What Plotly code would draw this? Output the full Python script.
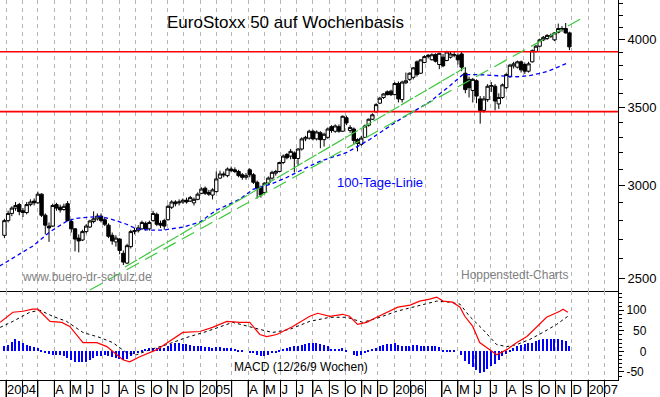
import math
import plotly.graph_objects as go
import pandas as pd

# ---------------- data ----------------
week_start = "2003-12-29"
n_weeks = 153
week_dates = pd.date_range(week_start, periods=n_weeks, freq="7D")

open_ = [2720, 2800, 2840, 2870, 2890, 2855, 2845, 2890, 2910, 2900,
         2950, 2830, 2770, 2770, 2890, 2875, 2862, 2895, 2795, 2755,
         2705, 2695, 2740, 2765, 2795, 2810, 2825, 2805, 2775, 2720,
         2685, 2700, 2625, 2575, 2660, 2740, 2745, 2755, 2785, 2755,
         2800, 2835, 2785, 2800, 2805, 2875, 2905, 2900, 2905, 2915,
         2910, 2900, 2920, 2955, 2985, 2960, 2945, 2965, 3045, 3070,
         3060, 3100, 3095, 3085, 3065, 3050, 3095, 3065, 3020, 2990,
         2960, 3015, 3045, 3075, 3085, 3140, 3190, 3180, 3200, 3165,
         3225, 3290, 3295, 3340, 3290, 3330, 3285, 3300, 3370, 3340,
         3370, 3340, 3430, 3345, 3355, 3285, 3255, 3300, 3380, 3420,
         3470, 3530, 3570, 3610, 3615, 3590, 3670, 3555, 3675, 3700,
         3715, 3830, 3745, 3825, 3870, 3846, 3885, 3810, 3865, 3840,
         3865, 3880, 3880, 3890, 3745, 3700, 3620, 3690, 3560, 3480,
         3555, 3650, 3650, 3525, 3570, 3640, 3720, 3800, 3790, 3830,
         3810, 3760, 3830, 3910, 3950, 4000, 4010, 4035, 4000, 4060,
         4085, 4090, 4055]
high = [2810, 2855, 2880, 2905, 2900, 2870, 2905, 2920, 2925, 2965,
        2955, 2840, 2790, 2895, 2900, 2890, 2895, 2910, 2810, 2760,
        2725, 2750, 2780, 2805, 2852, 2840, 2840, 2815, 2785, 2735,
        2720, 2705, 2640, 2675, 2750, 2760, 2775, 2800, 2795, 2800,
        2855, 2845, 2800, 2810, 2890, 2915, 2915, 2920, 2925, 2930,
        2940, 2930, 2960, 2990, 2995, 2975, 2985, 3085, 3090, 3085,
        3110, 3115, 3110, 3095, 3075, 3075, 3105, 3075, 3030, 3000,
        3020, 3055, 3090, 3095, 3145, 3190, 3200, 3225, 3210, 3230,
        3300, 3310, 3350, 3350, 3345, 3340, 3330, 3365, 3380, 3385,
        3385, 3445, 3445, 3380, 3365, 3295, 3310, 3385, 3425, 3460,
        3530, 3575, 3600, 3620, 3625, 3680, 3685, 3690, 3750, 3750,
        3790, 3840, 3850, 3880, 3890, 3895, 3895, 3900, 3890, 3915,
        3910, 3905, 3895, 3905, 3790, 3720, 3710, 3700, 3580, 3580,
        3665, 3680, 3665, 3600, 3670, 3745, 3815, 3830, 3840, 3840,
        3825, 3830, 3925, 3960, 4010, 4030, 4045, 4050, 4060, 4130,
        4110, 4135, 4065]
low = [2705, 2790, 2825, 2855, 2830, 2820, 2835, 2880, 2885, 2895,
       2820, 2725, 2685, 2765, 2855, 2845, 2855, 2795, 2735, 2635,
       2630, 2690, 2730, 2760, 2785, 2800, 2790, 2770, 2705, 2670,
       2660, 2620, 2565, 2570, 2650, 2725, 2735, 2750, 2745, 2745,
       2795, 2770, 2760, 2750, 2800, 2865, 2880, 2885, 2895, 2895,
       2905, 2885, 2915, 2950, 2945, 2940, 2920, 2960, 3040, 3050,
       3050, 3080, 3075, 3050, 3035, 3035, 3050, 3010, 2925, 2930,
       2950, 3005, 3035, 3060, 3080, 3130, 3160, 3160, 3080, 3120,
       3215, 3275, 3285, 3280, 3280, 3230, 3240, 3290, 3330, 3330,
       3330, 3335, 3380, 3330, 3255, 3210, 3245, 3295, 3370, 3415,
       3465, 3525, 3560, 3585, 3580, 3585, 3535, 3535, 3665, 3690,
       3700, 3720, 3740, 3820, 3855, 3840, 3825, 3775, 3790, 3835,
       3855, 3865, 3810, 3760, 3600, 3570, 3535, 3530, 3390, 3465,
       3540, 3610, 3480, 3490, 3560, 3630, 3710, 3780, 3780, 3750,
       3740, 3750, 3825, 3900, 3940, 3990, 4000, 4015, 3990, 4050,
       4065, 4050, 3920]
close = [2800, 2840, 2870, 2885, 2850, 2845, 2890, 2905, 2900, 2950,
         2830, 2775, 2760, 2885, 2870, 2860, 2880, 2800, 2755, 2700,
         2690, 2740, 2770, 2798, 2810, 2825, 2800, 2780, 2715, 2690,
         2705, 2640, 2580, 2665, 2740, 2745, 2760, 2790, 2755, 2790,
         2840, 2780, 2775, 2770, 2880, 2905, 2895, 2905, 2915, 2905,
         2930, 2920, 2950, 2980, 2955, 2950, 2975, 3040, 3070, 3065,
         3100, 3090, 3085, 3060, 3050, 3060, 3065, 3020, 2985, 2945,
         3015, 3045, 3080, 3085, 3140, 3180, 3170, 3210, 3165, 3225,
         3290, 3300, 3340, 3290, 3335, 3285, 3320, 3355, 3345, 3375,
         3340, 3440, 3395, 3365, 3280, 3260, 3295, 3375, 3420, 3450,
         3520, 3565, 3595, 3590, 3590, 3670, 3560, 3680, 3690, 3745,
         3785, 3735, 3845, 3870, 3880, 3884, 3835, 3895, 3800, 3905,
         3890, 3885, 3845, 3790, 3626, 3640, 3700, 3580, 3480, 3560,
         3650, 3655, 3545, 3570, 3660, 3735, 3805, 3815, 3830, 3770,
         3760, 3815, 3915, 3950, 4000, 4020, 4035, 4030, 4055, 4090,
         4090, 4055, 3945]

# 100-day moving average ("100-Tage-Linie")
ma_dates = ["2003-12-20", "2004-02-20", "2004-03-23", "2004-04-24", "2004-05-13",
            "2004-06-06", "2004-06-26", "2004-07-24", "2004-08-15", "2004-09-03",
            "2004-09-28", "2004-10-22", "2004-11-29", "2004-12-31", "2005-02-01",
            "2005-03-16", "2005-04-10", "2005-05-12", "2005-06-13", "2005-07-13",
            "2005-08-14", "2005-10-04", "2005-11-16", "2006-01-12", "2006-03-09",
            "2006-04-16", "2006-05-10", "2006-06-11", "2006-07-13", "2006-08-20",
            "2006-09-13", "2006-10-15", "2006-11-03", "2006-11-24"]
ma_values = [2560, 2662, 2737, 2796, 2813, 2818, 2824, 2802, 2780, 2754,
             2748, 2748, 2764, 2792, 2860, 2920, 2978, 3007, 3049, 3098,
             3147, 3203, 3286, 3419, 3539, 3654, 3734, 3734, 3727, 3719,
             3727, 3756, 3786, 3823]

# horizontal resistance / support lines
level_values = [3907, 3472]

# trend channel (green)
trend_upper_dates = ["2004-08-12", "2006-05-14"]
trend_upper_values = [2555, 3786]
trend_lower_dates = ["2004-06-07", "2006-12-22"]
trend_lower_values = [2442, 4177]

# MACD (12/26/9)
macd_dates = ["2003-12-21", "2004-01-14", "2004-02-02", "2004-02-20", "2004-03-01",
              "2004-03-24", "2004-04-15", "2004-04-30", "2004-05-25", "2004-06-20",
              "2004-07-09", "2004-08-08", "2004-08-21", "2004-09-09", "2004-10-11",
              "2004-11-04", "2004-11-29", "2004-12-31", "2005-01-24", "2005-02-20",
              "2005-03-16", "2005-04-04", "2005-04-23", "2005-05-06", "2005-05-25",
              "2005-06-24", "2005-07-26", "2005-08-10", "2005-09-02", "2005-09-26",
              "2005-10-09", "2005-10-24", "2005-11-10", "2005-11-29", "2005-12-24",
              "2006-01-08", "2006-01-31", "2006-02-18", "2006-03-09", "2006-03-22",
              "2006-04-03", "2006-04-21", "2006-05-05", "2006-05-14", "2006-05-29",
              "2006-06-11", "2006-06-30", "2006-07-13", "2006-08-01", "2006-08-20",
              "2006-09-08", "2006-09-27", "2006-10-15", "2006-11-09", "2006-11-15",
              "2006-11-24"]
macd_values = [70.6, 95.2, 97.6, 102.5, 102.5, 73.0, 70.6, 60.7, 21.4, 21.4,
               11.6, -20.4, -25.3, -13.0, 4.2, 23.9, 46.0, 48.4, 58.3, 73.0,
               70.6, 70.6, 41.1, 36.1, 41.1, 60.7, 85.3, 92.7, 85.3, 90.2,
               85.3, 65.6, 70.6, 82.9, 97.6, 107.5, 112.4, 122.2, 127.1, 132.0,
               122.2, 119.7, 107.5, 85.3, 60.7, 21.4, 4.2, -8.1, 4.2, 21.4,
               36.1, 60.7, 82.9, 97.6, 102.5, 95.2]
signal_dates = ["2003-12-21", "2004-01-14", "2004-02-15", "2004-03-05", "2004-03-29",
                "2004-04-24", "2004-05-25", "2004-06-26", "2004-07-20", "2004-08-15",
                "2004-09-03", "2004-09-28", "2004-10-30", "2004-12-06", "2005-01-13",
                "2005-03-03", "2005-04-23", "2005-05-17", "2005-06-18", "2005-07-26",
                "2005-09-02", "2005-10-04", "2005-11-03", "2005-12-05", "2006-01-06",
                "2006-02-13", "2006-03-22", "2006-04-16", "2006-05-05", "2006-05-23",
                "2006-06-17", "2006-07-13", "2006-08-01", "2006-08-20", "2006-09-13",
                "2006-10-08", "2006-11-03", "2006-11-24"]
signal_values = [58.3, 73.0, 95.2, 100.0, 85.3, 73.0, 46.0, 33.7, 21.4, -3.2,
                 -8.1, 4.2, 16.5, 33.7, 48.4, 70.6, 53.4, 46.0, 53.4, 73.0,
                 82.9, 82.9, 70.6, 82.9, 97.6, 109.9, 122.2, 119.7, 114.8, 85.3,
                 53.4, 16.5, 11.6, 16.5, 28.8, 46.0, 65.6, 85.3]
hist_values = [12, 16, 23, 29, 25, 20, 16, 14, 11, 8,
               4, -4, -6, -8, -8, -10, -12, -16, -20, -25,
               -27, -27, -25, -20, -16, -12, -11, -9, -11, -14,
               -16, -19, -22, -19, -11, -6, -2, 4, 6, 7,
               8, 7, 7, 8, 14, 19, 20, 20, 19, 18,
               16, 14, 12, 12, 11, 11, 9, 11, 11, 9,
               8, 7, 6, 4, 2, 0, -2, -4, -8, -11,
               -11, -8, -4, -2, 2, 6, 8, 11, 12, 14,
               16, 18, 20, 20, 20, 19, 16, 14, 6, 6,
               6, 7, 4, 0, -8, -12, -8, -2, 2, 6,
               8, 12, 16, 19, 19, 20, 16, 12, 14, 14,
               15, 15, 14, 14, 14, 12, 12, 11, 4, 4,
               4, 2, 0, -8, -23, -30, -37, -45, -52, -49,
               -43, -35, -30, -22, -12, -6, 2, 8, 14, 16,
               19, 20, 20, 25, 27, 30, 30, 29, 29, 29,
               27, 25, 12]

# axes
x_range = ["2003-12-20 17:00", "2007-02-26 12:00"]
month_ticks = pd.date_range("2004-01-01", "2007-02-01", freq="MS")
month_labels = ["2004", "", "", "A", "M", "J", "J", "A", "S", "O", "N", "D",
                "2005", "", "", "A", "M", "J", "J", "A", "S", "O", "N", "D",
                "2006", "", "", "A", "M", "J", "J", "A", "S", "O", "N", "D",
                "2007", ""]
price_range = [2437, 4327]
price_ticks = [2500, 3000, 3500, 4000]
price_minor_ticks = list(range(2500, 4301, 100))
macd_range = [-69.6, 146.8]
macd_ticks = [-50, 0, 50, 100]
macd_ticktext = ["-50", "\u2007\u20070", "\u200750", "100"]
macd_minor_ticks = list(range(-60, 141, 10))

# ---------------- figure ----------------
FONT = "Liberation Sans, Arial, sans-serif"
GRID = "#b4b4b4"
split = 0.2342
PLOT_W, PLOT_H, STRIP_H = 618, 380, 17

fig = go.Figure()

for lvl in level_values:
    fig.add_trace(go.Scatter(x=x_range, y=[lvl, lvl], mode="lines",
                             line=dict(color="#ff0000", width=1.6),
                             xaxis="x", yaxis="y", showlegend=False, hoverinfo="skip"))

fig.add_trace(go.Candlestick(
    x=week_dates, open=open_, high=high, low=low, close=close,
    increasing=dict(line=dict(color="black", width=1), fillcolor="white"),
    decreasing=dict(line=dict(color="black", width=1), fillcolor="black"),
    whiskerwidth=0, xaxis="x", yaxis="y", showlegend=False))

fig.add_trace(go.Scatter(x=ma_dates, y=ma_values, mode="lines",
                         line=dict(color="#0000ff", width=1.3, dash="4px,3px"),
                         xaxis="x", yaxis="y", showlegend=False))

fig.add_trace(go.Scatter(x=trend_upper_dates, y=trend_upper_values, mode="lines",
                         line=dict(color="#3cc83c", width=1.2, dash="14px,2px"),
                         xaxis="x", yaxis="y", showlegend=False))
fig.add_trace(go.Scatter(x=trend_lower_dates, y=trend_lower_values, mode="lines",
                         line=dict(color="#3cc83c", width=1.2, dash="14px,7px"),
                         xaxis="x", yaxis="y", showlegend=False))

# MACD panel
fig.add_trace(go.Bar(x=week_dates, y=hist_values, marker=dict(color="#0000ff", line=dict(width=0)),
                     width=2.6 * 86400000, xaxis="x2", yaxis="y2", showlegend=False))
fig.add_trace(go.Scatter(x=signal_dates, y=signal_values, mode="lines",
                         line=dict(color="black", width=1, dash="3px,3px"),
                         xaxis="x2", yaxis="y2", showlegend=False))
fig.add_trace(go.Scatter(x=macd_dates, y=macd_values, mode="lines",
                         line=dict(color="#ff0000", width=1.2),
                         xaxis="x2", yaxis="y2", showlegend=False))

common_x = dict(type="date", range=x_range, tickmode="array", tickvals=month_ticks,
                showgrid=True, gridcolor=GRID, griddash="4px,4px", gridwidth=1,
                zeroline=False, automargin=False)

fig.update_layout(
    width=660, height=397,
    margin=dict(l=0, r=42, t=0, b=STRIP_H),
    paper_bgcolor="white", plot_bgcolor="white",
    font=dict(family=FONT, color="black", size=13),
    showlegend=False,
    bargap=0,
    boxgap=0.1, boxgroupgap=0,
    xaxis=dict(**common_x, domain=[0, 1], anchor="y", showticklabels=False, ticks="",
               showline=True, linecolor="black", linewidth=1,
               rangeslider=dict(visible=False)),
    yaxis=dict(domain=[split, 1], type="log",
               range=[math.log10(price_range[0]), math.log10(price_range[1])],
               side="right", anchor="x", showgrid=False, zeroline=False,
               showline=True, linecolor="black", linewidth=1,
               tickmode="array", tickvals=price_ticks, ticktext=[str(v) for v in price_ticks],
               ticks="outside", ticklen=6, tickcolor="black",
               minor=dict(tickmode="array", tickvals=price_minor_ticks, ticks="outside",
                          ticklen=4, tickcolor="black", showgrid=False),
               tickfont=dict(size=13), automargin=False),
    xaxis2=dict(**common_x, domain=[0, 1], anchor="y2", matches="x",
                ticktext=month_labels, ticks="outside", ticklen=STRIP_H, tickcolor="black",
                tickwidth=1,
                ticklabelposition="outside right", ticklabelstandoff=-3, tickangle=0,
                tickfont=dict(size=13),
                showline=True, linecolor="black", linewidth=1,
                rangeslider=dict(visible=False)),
    yaxis2=dict(domain=[0, split], range=macd_range, side="right", anchor="x2",
                showgrid=False, zeroline=False,
                showline=True, linecolor="black", linewidth=1,
                tickmode="array", tickvals=macd_ticks, ticktext=macd_ticktext,
                ticks="outside", ticklen=5, tickcolor="black",
                minor=dict(tickmode="array", tickvals=macd_minor_ticks, ticks="outside",
                           ticklen=3, tickcolor="black", showgrid=False),
                tickfont=dict(size=12), automargin=False),
)

# month separators in the date strip below the MACD panel
for t in month_ticks:
    fig.add_shape(type="line", xref="x2", yref="paper", x0=t, x1=t,
                  y0=-STRIP_H / PLOT_H, y1=0, line=dict(color="black", width=1))

def note(text, px, py, size, color):
    fig.add_annotation(text=text, x=px / PLOT_W, y=(PLOT_H - py) / PLOT_H, xref="paper", yref="paper",
                       showarrow=False, xanchor="center", yanchor="middle",
                       font=dict(family=FONT, size=size, color=color))

note("EuroStoxx 50 auf Wochenbasis", 285.5, 22.5, 17, "black")
note("100-Tage-Linie", 380, 182, 13, "#0000ff")
note("www.buero-dr-schulz.de", 86.5, 277, 12, "#808080")
note("Hoppenstedt-Charts", 514, 275, 12, "#808080")
note("MACD (12/26/9 Wochen)", 301, 367, 12, "black")

fig.write_html("out.html", config={"displayModeBar": False},
               post_script="document.body.style.margin='0';document.body.style.padding='0';")
